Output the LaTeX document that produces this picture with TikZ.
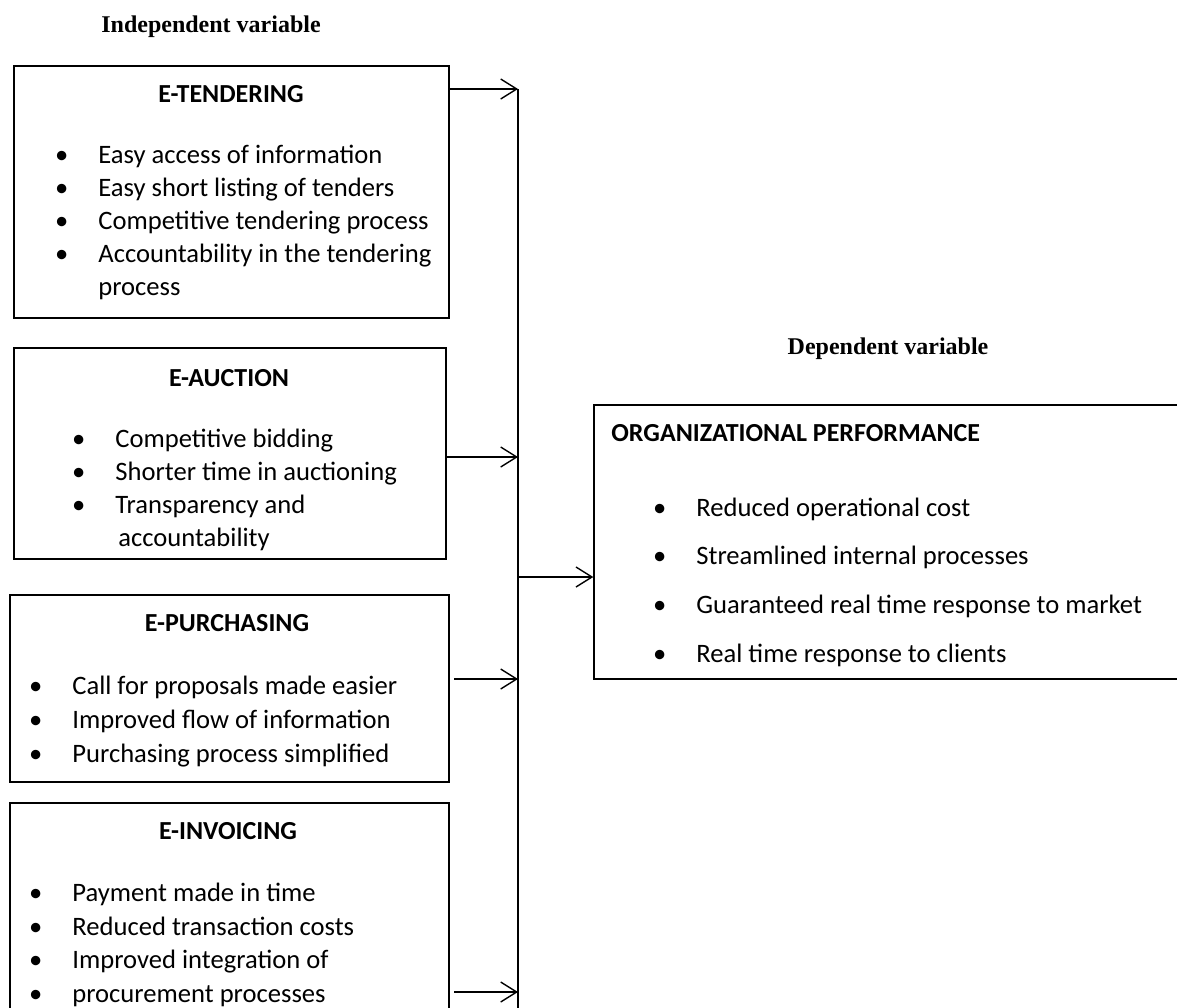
\documentclass[tikz,border=0pt]{standalone}
\usepackage{fontspec}
\setmainfont{Carlito}
\newfontfamily\varfont{Liberation Serif}
\usetikzlibrary{arrows.meta, fit}

\newcommand{\bul}{\llap{\textbullet\hspace{15pt}}}

\begin{document}
\begin{tikzpicture}[
        x=0.5pt, y=-0.5pt,
        box/.style = {draw, rectangle, inner sep=0pt, line width=0.7pt},
        boxhead/.style = {font=\fontsize{13pt}{16pt}\selectfont\bfseries, inner sep=0pt},
        varlabel/.style = {font=\varfont\fontsize{12pt}{15pt}\selectfont\bfseries, inner sep=0pt},
        bullets/.style = {align=left, anchor=base west, inner sep=0pt},
        arrow/.style = {-{Straight Barb[length=8pt, width=10pt]}, line width=0.7pt}
      ]
      \useasboundingbox (0,0) rectangle (1177,1007);
      \clip (0,0) rectangle (1177,1007);

      % ================= INDEPENDENT =================
      \node[varlabel] (indep) at (211,27) {Independent variable};

      % lists are placed by the baseline of their last line
      \node[box, fit={(14,66) (449,318)}] (tender) {};
      \node[boxhead] (tender-head) at (231,94) {E-TENDERING};
      \node[bullets, font=\fontsize{13.3pt}{16.4pt}\selectfont] (tender-list) at (98,295)
        {\bul Easy access of information\\ \bul Easy short listing of tenders\\
         \bul Competitive tendering process\\ \bul Accountability in the tendering\\ process};

      \node[box, fit={(14,348) (446,559)}] (auction) {};
      \node[boxhead] (auction-head) at (229,378) {E-AUCTION};
      \node[bullets, font=\fontsize{13.3pt}{16.5pt}\selectfont] (auction-list) at (115,546)
        {\bul Competitive bidding\\ \bul Shorter time in auctioning\\
         \bul Transparency and\\ \hspace*{1.5pt}accountability};

      \node[box, fit={(10,595) (449,782)}] (purch) {};
      \node[boxhead] (purch-head) at (227,623) {E-PURCHASING};
      \node[bullets, font=\fontsize{13.3pt}{17pt}\selectfont] (purch-list) at (72,762)
        {\bul Call for proposals made easier\\ \bul Improved flow of information\\
         \bul Purchasing process simplified};

      \node[box, fit={(10,803) (449,1030)}] (invoice) {};
      \node[boxhead] (invoice-head) at (228,831) {E-INVOICING};
      \node[bullets, font=\fontsize{13.3pt}{16.7pt}\selectfont] (invoice-list) at (72,1002)
        {\bul Payment made in time\\ \bul Reduced transaction costs\\
         \bul Improved integration of\\ \bul procurement processes};

      % ================= DEPENDENT =================
      \node[varlabel] (dep) at (888,349) {Dependent variable};

      \node[box, fit={(594,405) (1190,679)}] (org) {};
      \node[boxhead, anchor=west] (org-head) at (611,433) {ORGANIZATIONAL PERFORMANCE};
      \node[bullets, font=\fontsize{13.3pt}{24.3pt}\selectfont] (org-list) at (696,662)
        {\bul Reduced operational cost\\ \bul Streamlined internal processes\\
         \bul Guaranteed real time response to market\\ \bul Real time response to clients};

      % ================= ARROWS =================
      \coordinate (bus-top) at (518,89);
      \coordinate (bus-end) at (518,1030);
      \coordinate (a-in) at (518,457);
      \coordinate (p-out) at (454,679);
      \coordinate (p-in) at (518,679);
      \coordinate (i-out) at (454,992);
      \coordinate (i-in) at (518,992);
      \coordinate (o-out) at (518,577);

      \draw[line width=0.7pt] (bus-top) -- (bus-end);
      \draw[arrow] (tender.east |- bus-top) -- (bus-top);
      \draw[arrow] (auction.east |- a-in) -- (a-in);
      \draw[arrow] (p-out) -- (p-in);
      \draw[arrow] (i-out) -- (i-in);
      \draw[arrow] (o-out) -- (org.west |- o-out);

    \end{tikzpicture}
\end{document}
